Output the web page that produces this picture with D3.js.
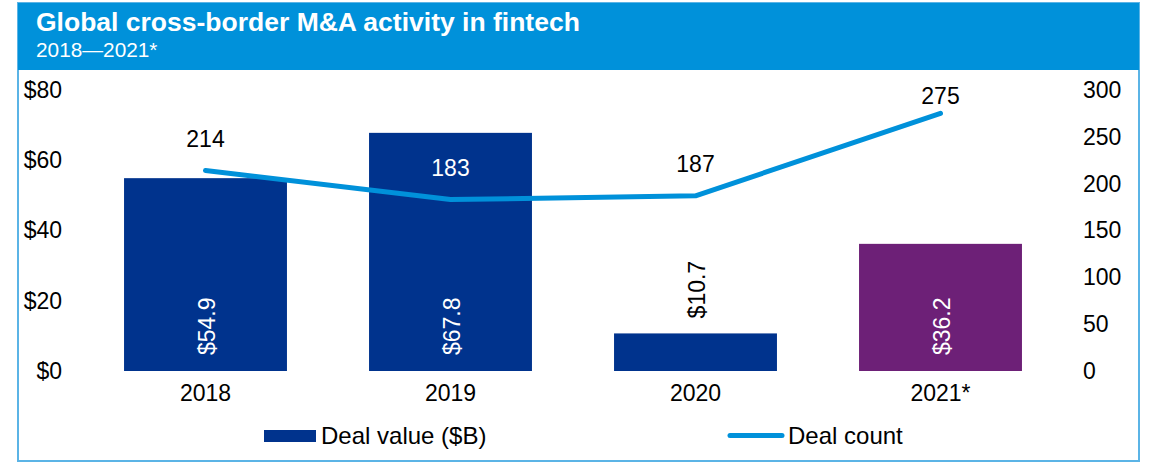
<!DOCTYPE html>
<html>
<head>
<meta charset="utf-8">
<script src="https://cdn.jsdelivr.net/npm/d3@7"></script>
<style>
  html, body { margin: 0; padding: 0; background: #fff; }
  svg { display: block; font-family: "Liberation Sans", Arial, sans-serif; }
</style>
</head>
<body>
<svg id="chart" width="1153" height="462"></svg>
<script>
const title = "Global cross-border M&A activity in fintech";
const subtitle = "2018\u20142021*";
const categories = ["2018", "2019", "2020", "2021*"];
const dealValue = [54.9, 67.8, 10.7, 36.2];
const dealCount = [214, 183, 187, 275];
const leftTicks = [0, 20, 40, 60, 80];
const rightTicks = [0, 50, 100, 150, 200, 250, 300];
const seriesNames = ["Deal value ($B)", "Deal count"];

const C = {
  header: "#0091DA",
  border: "#5BB4E6",
  bar: "#00338D",
  barLast: "#6D2077",
  line: "#0091DA",
  text: "#000000"
};

const svg = d3.select("#chart");

// frame
const fx = 18, fy = 3, fw = 1121, fh = 458, hh = 67;
svg.append("rect").attr("x", fx).attr("y", fy).attr("width", fw).attr("height", fh)
  .attr("fill", "#fff").attr("stroke", C.border).attr("stroke-width", 2);
svg.append("rect").attr("x", fx).attr("y", fy).attr("width", fw).attr("height", hh)
  .attr("fill", C.header);
svg.append("text").attr("x", 36).attr("y", 31).attr("fill", "#fff")
  .attr("font-size", 26.5).attr("font-weight", "bold").text(title);
svg.append("text").attr("x", 36).attr("y", 57).attr("fill", "#fff")
  .attr("font-size", 20.8).text(subtitle);

// scales
const plotTop = 90, plotBottom = 371;
const x = d3.scaleBand().domain(categories).range([83, 1063]).paddingInner(0.335).paddingOuter(0.1675);
const yL = d3.scaleLinear().domain([0, 80]).range([plotBottom, plotTop]);
const yR = d3.scaleLinear().domain([0, 300]).range([plotBottom, plotTop]);

const fs = 23;

// left axis
const leftAxis = d3.axisLeft(yL).tickValues(leftTicks).tickFormat(d => "$" + d).tickSize(0).tickPadding(0);
const gL = svg.append("g").attr("transform", "translate(62,0)").call(leftAxis);
gL.select(".domain").remove();
gL.selectAll("text").attr("font-size", fs).attr("fill", C.text).attr("font-family", "Liberation Sans, Arial, sans-serif");

// right axis
const rightAxis = d3.axisRight(yR).tickValues(rightTicks).tickSize(0).tickPadding(0);
const gR = svg.append("g").attr("transform", "translate(1083,0)").call(rightAxis);
gR.select(".domain").remove();
gR.selectAll("text").attr("font-size", fs).attr("fill", C.text).attr("font-family", "Liberation Sans, Arial, sans-serif");

// bottom axis
const bottomAxis = d3.axisBottom(x).tickSize(0).tickPadding(0);
const gB = svg.append("g").attr("transform", "translate(0,385)").call(bottomAxis);
gB.select(".domain").remove();
gB.selectAll("text").attr("font-size", fs).attr("fill", C.text).attr("dy", "0.71em").attr("font-family", "Liberation Sans, Arial, sans-serif");

// bars
const data = categories.map((c, i) => ({ c, v: dealValue[i], n: dealCount[i], i }));
svg.append("g").selectAll("rect").data(data).join("rect")
  .attr("x", d => x(d.c))
  .attr("y", d => yL(d.v))
  .attr("width", x.bandwidth())
  .attr("height", d => yL(0) - yL(d.v))
  .attr("fill", d => d.i === categories.length - 1 ? C.barLast : C.bar);

// bar labels (rotated)
svg.append("g").selectAll("text").data(data).join("text")
  .each(function(d) {
    const inside = (yL(0) - yL(d.v)) > 80;
    const cx = x(d.c) + x.bandwidth() / 2;
    const yy = inside ? yL(0) - 16 : yL(d.v) - 15;
    d3.select(this)
      .attr("transform", `translate(${cx + 1},${yy}) rotate(-90)`)
      .attr("dy", "0.35em")
      .attr("text-anchor", "start")
      .attr("font-size", fs)
      .attr("fill", inside ? "#fff" : C.text)
      .text("$" + d.v.toFixed(1));
  });

// line
const line = d3.line()
  .x(d => x(d.c) + x.bandwidth() / 2)
  .y(d => yR(d.n));
svg.append("path").datum(data)
  .attr("d", line)
  .attr("fill", "none")
  .attr("stroke", C.line)
  .attr("stroke-width", 5)
  .attr("stroke-linecap", "round")
  .attr("stroke-linejoin", "round");

// line labels
svg.append("g").selectAll("text").data(data).join("text")
  .attr("x", d => x(d.c) + x.bandwidth() / 2)
  .attr("y", d => Math.max(yR(d.n) - 24, plotTop + 14))
  .attr("text-anchor", "middle")
  .attr("font-size", fs)
  .attr("fill", d => {
    const ly = yR(d.n) - 24;
    return (ly - 10 > yL(d.v)) ? "#fff" : C.text;
  })
  .text(d => d.n);

// legend
const lfs = 24;
const lg = svg.append("g");
lg.append("rect").attr("x", 264).attr("y", 430).attr("width", 52).attr("height", 12).attr("fill", C.bar);
lg.append("text").attr("x", 321).attr("y", 444).attr("font-size", lfs).attr("fill", C.text).text(seriesNames[0]);
lg.append("line").attr("x1", 730).attr("x2", 782).attr("y1", 435.5).attr("y2", 435.5)
  .attr("stroke", C.line).attr("stroke-width", 5).attr("stroke-linecap", "round");
lg.append("text").attr("x", 788).attr("y", 444).attr("font-size", lfs).attr("fill", C.text).text(seriesNames[1]);
</script>
</body>
</html>
